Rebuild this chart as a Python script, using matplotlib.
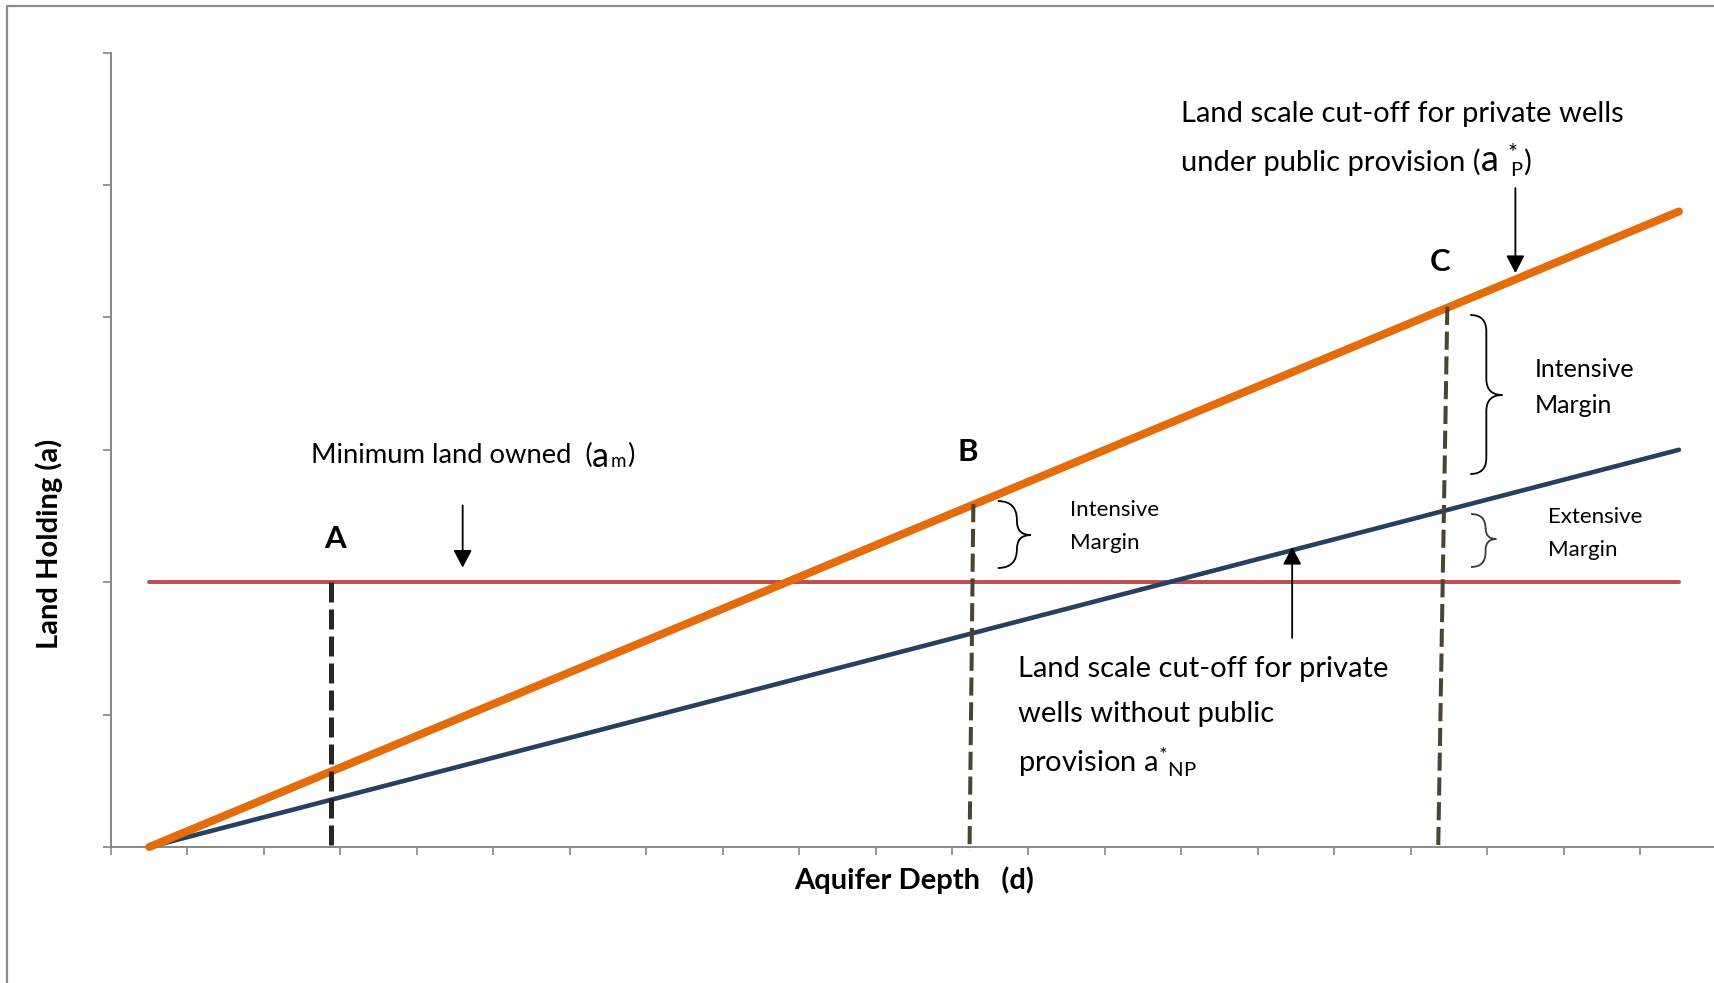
import matplotlib
matplotlib.use("Agg")
import matplotlib.pyplot as plt
from matplotlib.path import Path
from matplotlib.patches import PathPatch
from matplotlib.lines import Line2D

plt.rcParams['font.family'] = ['Lato', 'DejaVu Sans']
plt.rcParams['mathtext.fontset'] = 'custom'
plt.rcParams['mathtext.rm'] = 'Lato'
plt.rcParams['mathtext.it'] = 'Lato:italic'
plt.rcParams['mathtext.bf'] = 'Lato:bold'

# ---------------- data ----------------
depth_ends = [0.5, 20.51]
a_public = [0.0, 4.80]          # a*_P (orange)
a_nopublic = [0.0, 3.00]        # a*_NP (blue)
a_min = [2.0, 2.0]              # a_m (red)

A_d = [2.88, 2.88]; A_a = [2.0, -0.03]
B_d = [11.28, 11.23]; B_a = [2.59, -0.03]
C_d = [17.48, 17.36]; C_a = [4.08, -0.03]

x_ticks = list(range(0, 23))
y_ticks = list(range(0, 7))

W, H = 1715, 983
fig = plt.figure(figsize=(W / 100, H / 100), dpi=100)
X0, SX = 111, 76.45
Y0, SY = 847, 132.4
xmax = 22
ax = fig.add_axes([X0 / W, (H - Y0) / H, xmax * SX / W, 6 * SY / H])
ax.set_xlim(0, xmax)
ax.set_ylim(0, 6)
ax.set_xticks(x_ticks)
ax.set_yticks(y_ticks)
ax.set_xticklabels([])
ax.set_yticklabels([])
for s in ['top', 'right']:
    ax.spines[s].set_visible(False)
for s in ['left', 'bottom']:
    ax.spines[s].set_color('#868686')
    ax.spines[s].set_linewidth(1.4)
ax.tick_params(axis='both', direction='out', length=5.5, width=1.2, color='#868686')
ax.patch.set_alpha(0)

# outer frame
fig.add_artist(Line2D([7 / W, 7 / W, 1.02], [-0.02, 1 - 6 / H, 1 - 6 / H],
                      transform=fig.transFigure, color='#8a8a8a', lw=1.6))

# lines
ax.plot(depth_ends, a_min, color='#C0504D', lw=2.9, solid_capstyle='round', zorder=2, clip_on=False)
ax.plot(depth_ends, a_nopublic, color='#254061', lw=3.3, solid_capstyle='round', zorder=3, clip_on=False)
ax.plot(depth_ends, a_public, color='#E46C0A', lw=5.8, solid_capstyle='round', zorder=4, clip_on=False)

ax.plot(A_d, A_a, color='#262626', lw=3.6, ls=(0, (4, 1.4)), zorder=5, clip_on=False)
ax.plot(B_d, B_a, color='#4a4530', lw=2.9, ls=(0, (4.5, 1.65)), zorder=5, clip_on=False)
ax.plot(C_d, C_a, color='#4a4530', lw=2.9, ls=(0, (4.5, 1.65)), zorder=5, clip_on=False)

# point labels
for lab, x, y in [('A', 2.93, 2.33), ('B', 11.21, 2.98), ('C', 17.39, 4.42)]:
    ax.text(x, y, lab, fontsize=22.5, fontweight='bold', ha='center', va='center')

# annotations
MAIN = 21
ax.text(14.0, 5.477, "Land scale cut-off for private wells", fontsize=MAIN, ha='left', va='baseline')
ax.text(11.86, 1.286, "Land scale cut-off for private", fontsize=MAIN, ha='left', va='baseline')
ax.text(11.86, 0.946, "wells without public", fontsize=MAIN, ha='left', va='baseline')
ax.text(11.86, 0.569, r"provision a$^{\mathregular{*}}$$_{\mathregular{NP}}$", fontsize=MAIN,
        ha='left', va='baseline')

ax.text(18.62, 3.547, "Intensive", fontsize=18, ha='left', va='baseline')
ax.text(18.62, 3.280, "Margin", fontsize=18, ha='left', va='baseline')
ax.text(18.80, 2.445, "Extensive", fontsize=16, ha='left', va='baseline')
ax.text(18.80, 2.198, "Margin", fontsize=16, ha='left', va='baseline')
ax.text(12.54, 2.50, "Intensive", fontsize=16, ha='left', va='baseline')
ax.text(12.54, 2.25, "Margin", fontsize=16, ha='left', va='baseline')

arrow = dict(arrowstyle='-|>,head_length=0.38,head_width=0.2', lw=1.3, color='black',
             mutation_scale=28, shrinkA=0, shrinkB=0)
ax.annotate('', xy=(4.60, 2.11), xytext=(4.60, 2.58), arrowprops=arrow)
ax.annotate('', xy=(18.37, 4.335), xytext=(18.37, 4.977), arrowprops=arrow)
ax.annotate('', xy=(15.45, 2.266), xytext=(15.45, 1.579), arrowprops=arrow)


def brace(xl, xv, xt, yt, yb, ym, color):
    r = (xv - xl) * SX / SY
    r2 = (xt - xv) * SX / SY
    verts = [(xl, yt), (xv, yt), (xv, yt - r),
             (xv, ym + r2), (xv, ym), (xt, ym),
             (xv, ym), (xv, ym - r2),
             (xv, yb + r), (xv, yb), (xl, yb)]
    codes = [Path.MOVETO, Path.CURVE3, Path.CURVE3,
             Path.LINETO, Path.CURVE3, Path.CURVE3,
             Path.CURVE3, Path.CURVE3,
             Path.LINETO, Path.CURVE3, Path.CURVE3]
    ax.add_patch(PathPatch(Path(verts, codes), fill=False, edgecolor=color, lw=1.3, zorder=6,
                           clip_on=False))


brace(17.78, 17.99, 18.20, 4.018, 2.817, 3.414, 'black')
brace(17.79, 17.98, 18.12, 2.515, 2.115, 2.326, '#3a3a3a')
brace(11.60, 11.85, 12.03, 2.613, 2.107, 2.356, 'black')

# axis titles
fig.text(49 / W, 1 - 544 / H, "Land Holding (a)", rotation=90, fontsize=21, fontweight='bold',
         ha='center', va='center')
fig.text(914.5 / W, 1 - 880.7 / H, "Aquifer Depth   (d)", fontsize=21, fontweight='bold',
         ha='center', va='center')

# chained labels with an enlarged 'a' and small scripts
fig.canvas.draw()
ren = fig.canvas.get_renderer()


def chain(x, y, pieces):
    xd, yd = ax.transData.transform((x, y))
    for s, size, dy, gap, advance in pieces:
        xs = xd + gap
        t = fig.text(xs / W, (yd + dy) / H, s, fontsize=size, ha='left', va='baseline')
        if advance:
            xd = t.get_window_extent(ren).x1
        else:
            xd = xs


chain(2.61, 2.90, [("Minimum land owned  (", 19.75, 0.0, 0.0, True),
                   ("a", 24.5, -4.0, 0.0, True),
                   ("m", 13.5, -4.0, 1.0, True),
                   (")", 19.75, 0.0, 1.0, True)])
chain(14.0, 5.107, [("under public provision (", MAIN, 0.0, 0.0, True),
                    ("a", 26, 0.0, 0.0, True),
                    ("*", 17, 11.0, 9.0, False),
                    ("P", 14.5, -5.0, 2.0, True),
                    (")", MAIN, 0.0, 1.0, True)])

fig.savefig('out.png', dpi=100)
